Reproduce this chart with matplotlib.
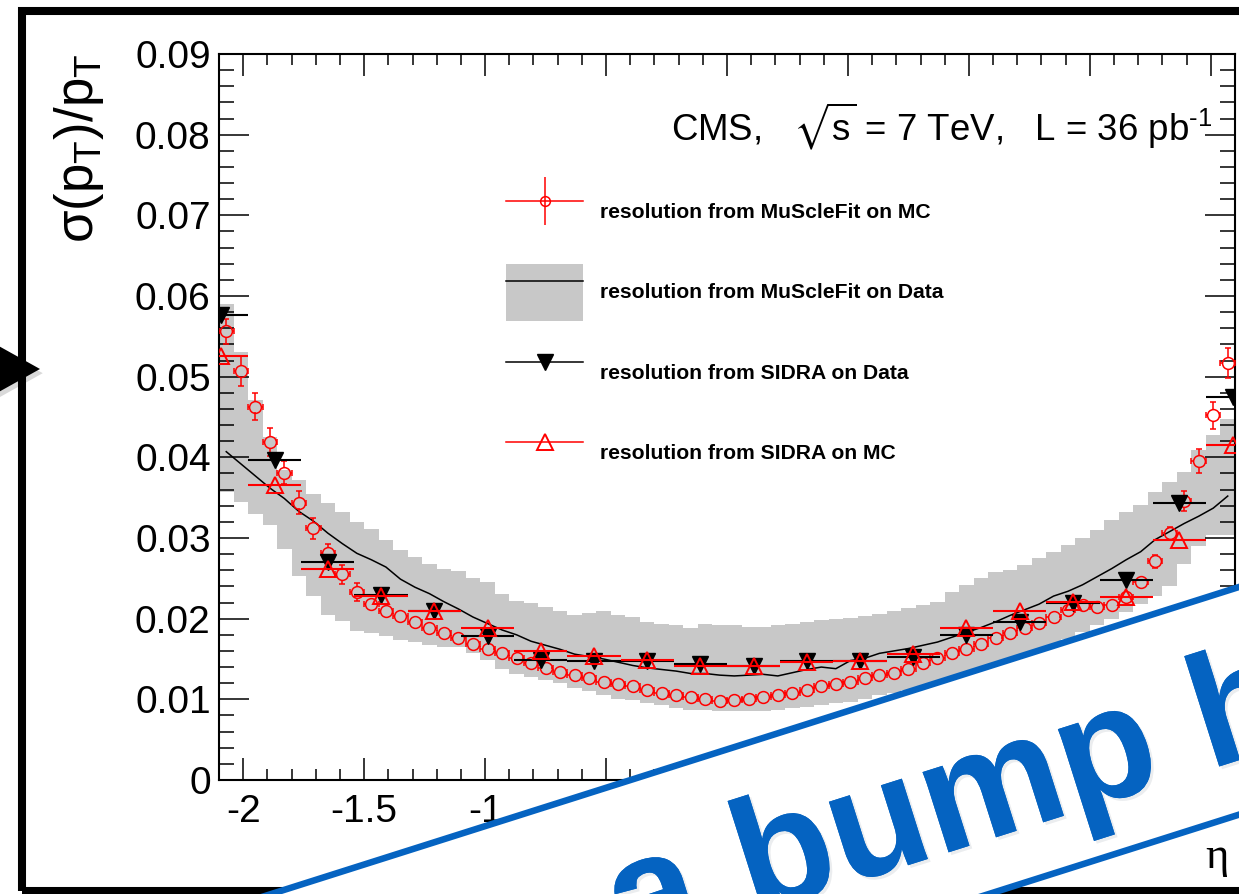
import numpy as np
import matplotlib
matplotlib.use("Agg")
import matplotlib.pyplot as plt
from matplotlib.lines import Line2D
from matplotlib.patches import Patch, Polygon, Rectangle
from matplotlib.legend_handler import HandlerTuple
from matplotlib.ticker import MultipleLocator, FixedLocator, FixedFormatter
import matplotlib.patheffects as pe

plt.rcParams['font.family'] = ['Liberation Sans', 'DejaVu Sans']
plt.rcParams['axes.unicode_minus'] = False
plt.rcParams['mathtext.fontset'] = 'custom'
plt.rcParams['mathtext.rm'] = 'Liberation Sans'
plt.rcParams['mathtext.it'] = 'Liberation Sans:italic'
plt.rcParams['mathtext.bf'] = 'Liberation Sans:bold'
plt.rcParams['mathtext.fallback'] = 'stixsans'

# --- data -------------------------------------------------------------
# fine binning (0.06 in eta), MuScleFit
eta_edges = np.linspace(-2.1, 2.1, 71)
eta_fine = 0.5 * (eta_edges[:-1] + eta_edges[1:])

mscf_mc = [0.0556, 0.0507, 0.0463, 0.0419, 0.0381, 0.0344, 0.0312, 0.0281, 0.0255, 0.0233,
           0.0218, 0.0210, 0.0203, 0.0196, 0.0188, 0.0182, 0.0176, 0.0169, 0.0162, 0.0157,
           0.0151, 0.0145, 0.0139, 0.0134, 0.0130, 0.0127, 0.0122, 0.0119, 0.0116, 0.0111,
           0.0108, 0.0105, 0.0103, 0.0101, 0.0098, 0.0099, 0.0101, 0.0103, 0.0105, 0.0108,
           0.0112, 0.0116, 0.0119, 0.0122, 0.0126, 0.0130, 0.0133, 0.0138, 0.0145, 0.0151,
           0.0157, 0.0163, 0.0169, 0.0176, 0.0182, 0.0189, 0.0195, 0.0202, 0.0211, 0.0217,
           0.0214, 0.0217, 0.0227, 0.0245, 0.0271, 0.0306, 0.0346, 0.0395, 0.0452, 0.0517]
mscf_mc_err = [0.0015, 0.0019, 0.0017, 0.0017, 0.0014, 0.0014, 0.0013, 0.0012, 0.0012, 0.0011,
               0.0005, 0.0005, 0.0004, 0.0004, 0.0004, 0.0004, 0.0004, 0.0004, 0.0004, 0.0004,
               0.0004, 0.0004, 0.0004, 0.0004, 0.0004, 0.0004, 0.0004, 0.0004, 0.0004, 0.0004,
               0.0004, 0.0004, 0.0004, 0.0004, 0.0004, 0.0004, 0.0004, 0.0004, 0.0004, 0.0004,
               0.0004, 0.0004, 0.0004, 0.0004, 0.0004, 0.0004, 0.0004, 0.0004, 0.0004, 0.0004,
               0.0004, 0.0004, 0.0004, 0.0004, 0.0004, 0.0004, 0.0004, 0.0004, 0.0004, 0.0004,
               0.0004, 0.0004, 0.0005, 0.0006, 0.0008, 0.0008, 0.0012, 0.0015, 0.0017, 0.0019]

mscf_data = [0.0407, 0.0392, 0.0377, 0.0362, 0.0349, 0.0333, 0.0321, 0.0306, 0.0293, 0.0281,
             0.0273, 0.0264, 0.0249, 0.0239, 0.0231, 0.0221, 0.0212, 0.0202, 0.0194, 0.0186,
             0.0180, 0.0172, 0.0167, 0.0162, 0.0156, 0.0153, 0.0150, 0.0146, 0.0142, 0.0139,
             0.0137, 0.0135, 0.0132, 0.0132, 0.0130, 0.0129, 0.0130, 0.0131, 0.0129, 0.0133,
             0.0137, 0.0140, 0.0138, 0.0148, 0.0151, 0.0157, 0.0160, 0.0163, 0.0167, 0.0171,
             0.0177, 0.0183, 0.0189, 0.0196, 0.0204, 0.0211, 0.0218, 0.0228, 0.0234, 0.0242,
             0.0252, 0.0262, 0.0273, 0.0283, 0.0298, 0.0308, 0.0318, 0.0327, 0.0337, 0.0352]
band_hi = [0.0590, 0.0530, 0.0471, 0.0425, 0.0384, 0.0372, 0.0355, 0.0343, 0.0332, 0.0320,
           0.0311, 0.0297, 0.0285, 0.0277, 0.0268, 0.0262, 0.0259, 0.0251, 0.0246, 0.0231,
           0.0222, 0.0219, 0.0215, 0.0209, 0.0204, 0.0207, 0.0209, 0.0204, 0.0202, 0.0196,
           0.0194, 0.0192, 0.0188, 0.0194, 0.0192, 0.0192, 0.0190, 0.0190, 0.0192, 0.0194,
           0.0196, 0.0198, 0.0200, 0.0201, 0.0203, 0.0206, 0.0209, 0.0213, 0.0217, 0.0221,
           0.0233, 0.0242, 0.0250, 0.0258, 0.0260, 0.0266, 0.0275, 0.0283, 0.0291, 0.0300,
           0.0310, 0.0322, 0.0332, 0.0341, 0.0357, 0.0369, 0.0382, 0.0409, 0.0428, 0.0448]
band_lo = [0.0357, 0.0345, 0.0330, 0.0316, 0.0286, 0.0253, 0.0228, 0.0204, 0.0197, 0.0185,
           0.0182, 0.0178, 0.0173, 0.0171, 0.0167, 0.0165, 0.0165, 0.0157, 0.0149, 0.0138,
           0.0132, 0.0128, 0.0124, 0.0120, 0.0114, 0.0110, 0.0105, 0.0101, 0.0099, 0.0095,
           0.0093, 0.0089, 0.0087, 0.0087, 0.0085, 0.0085, 0.0085, 0.0085, 0.0087, 0.0089,
           0.0091, 0.0093, 0.0095, 0.0097, 0.0101, 0.0105, 0.0108, 0.0112, 0.0116, 0.0120,
           0.0125, 0.0130, 0.0135, 0.0141, 0.0147, 0.0153, 0.0160, 0.0167, 0.0175, 0.0183,
           0.0192, 0.0200, 0.0208, 0.0218, 0.0228, 0.0240, 0.0268, 0.0290, 0.0304, 0.0304]

# coarse binning (0.22 in eta), SIDRA
eta_coarse = np.linspace(-2.09, 2.09, 20)
sidra_data = [0.0576, 0.0397, 0.0270, 0.0229, 0.0209, 0.0178, 0.0149, 0.0147, 0.0147, 0.0144,
              0.0141, 0.0147, 0.0147, 0.0153, 0.0180, 0.0196, 0.0219, 0.0248, 0.0343, 0.0475]
sidra_mc = [0.0525, 0.0366, 0.0262, 0.0228, 0.0209, 0.0189, 0.0160, 0.0154, 0.0149, 0.0141,
            0.0141, 0.0146, 0.0148, 0.0156, 0.0189, 0.0210, 0.0221, 0.0227, 0.0297, 0.0415]

xtick_vals = [-2, -1.5, -1, -0.5, 0, 0.5, 1, 1.5, 2]
xtick_labels = ['-2', '-1.5', '-1', '-0.5', '0', '0.5', '1', '1.5', '2']
ytick_vals = [0, 0.01, 0.02, 0.03, 0.04, 0.05, 0.06, 0.07, 0.08, 0.09]
ytick_labels = ['0', '0.01', '0.02', '0.03', '0.04', '0.05', '0.06', '0.07', '0.08', '0.09']
legend_labels = ['resolution from MuScleFit on MC', 'resolution from MuScleFit on Data',
                 'resolution from SIDRA on Data', 'resolution from SIDRA on MC']

W, H = 1239, 894
GRAY = '#c8c8c8'
BLUE = '#0563c1'


def fxy(x, y):
    # image pixel -> figure fraction
    return x / W, 1 - y / H


fig = plt.figure(figsize=(W / 100, H / 100), dpi=100)
ax = fig.add_axes([219 / W, 1 - 780 / H, (1235 - 219) / W, (780 - 54) / H])
ax.set_xlim(-2.1, 2.1)
ax.set_ylim(0, 0.09)

# band + line (MuScleFit on data)
ax.stairs(band_hi, eta_edges, baseline=band_lo, fill=True, color=GRAY, lw=0, zorder=1)
ax.plot(eta_fine, mscf_data, color='black', lw=1.1, zorder=2)

# MuScleFit on MC: open circles, error bars drawn outside the marker (ROOT style)
mc = np.array(mscf_mc)
mc_err = np.array(mscf_mc_err)
ms_c = 8.5
r_px = ms_c / 72 * 100 / 2
r_x = r_px * 4.2 / 1016
r_y = r_px * 0.09 / 726
ax.plot(eta_fine, mc, 'o', mfc='none', mec='red', ms=ms_c, mew=1.1, zorder=3)
ax.hlines(mc, eta_fine - 0.03, eta_fine - r_x, color='red', lw=1.1, zorder=3)
ax.hlines(mc, eta_fine + r_x, eta_fine + 0.03, color='red', lw=1.1, zorder=3)
ax.plot(np.r_[eta_fine - 0.03, eta_fine + 0.03], np.r_[mc, mc], '|', color='red',
        ms=4.5, mew=1.1, zorder=3)
big = mc_err > r_y
ax.vlines(eta_fine[big], mc[big] + r_y, mc[big] + mc_err[big], color='red', lw=1.1, zorder=3)
ax.vlines(eta_fine[big], mc[big] - mc_err[big], mc[big] - r_y, color='red', lw=1.1, zorder=3)
ax.plot(np.r_[eta_fine[big], eta_fine[big]],
        np.r_[mc[big] + mc_err[big], mc[big] - mc_err[big]], '_', color='red',
        ms=4.5, mew=1.1, zorder=3)

# SIDRA
ax.errorbar(eta_coarse, sidra_data, xerr=0.11, fmt='v', color='black', ms=11,
            elinewidth=1.5, capsize=0, zorder=4)
ax.errorbar(eta_coarse, sidra_mc, xerr=0.11, fmt='^', color='red', mfc='none',
            mec='red', ms=11.5, mew=1.4, elinewidth=1.5, capsize=0, zorder=5)

ax.xaxis.set_major_locator(FixedLocator(xtick_vals))
ax.xaxis.set_major_formatter(FixedFormatter(xtick_labels))
ax.xaxis.set_minor_locator(MultipleLocator(0.1))
ax.yaxis.set_major_locator(FixedLocator(ytick_vals))
ax.yaxis.set_major_formatter(FixedFormatter(ytick_labels))
ax.yaxis.set_minor_locator(MultipleLocator(0.002))
ax.tick_params(which='both', direction='in', top=True, right=True, width=1.1,
               labelsize=28)
ax.tick_params(axis='y', which='major', length=21.6, pad=6)
ax.tick_params(axis='y', which='minor', length=10.8)
ax.tick_params(axis='x', which='major', length=15.8, pad=10)
ax.tick_params(axis='x', which='minor', length=7.9)
for s in ax.spines.values():
    s.set_linewidth(1.5)

# legend
h1 = (Line2D([], [], color='red', lw=1.1),
      Line2D([], [], color='red', marker='|', ms=35, mew=1.1, ls='none'),
      Line2D([], [], color='red', marker='o', mfc='none', ms=7, mew=1.1, ls='none'))
h2 = (Patch(facecolor=GRAY, edgecolor='none'), Line2D([], [], color='black', lw=1.1))
h3 = Line2D([], [], color='black', lw=1.1, marker='v', ms=11)
h4 = Line2D([], [], color='red', lw=1.1, marker='^', mfc='none', ms=11.5, mew=1.4)
ax.legend([h1, h2, h3, h4], legend_labels,
          handler_map={tuple: HandlerTuple(ndivide=1, pad=0)},
          loc='upper left', bbox_to_anchor=((506 - 219) / 1016, (780 - 183.5) / 726),
          frameon=False, borderpad=0, borderaxespad=0, numpoints=1,
          prop={'size': 15.2, 'weight': 'bold'}, handlelength=3.65,
          handleheight=3.78, labelspacing=1.11, handletextpad=0.8)

ax.text((1212 - 219) / 1016, (780 - 140) / 726,
        r'CMS,   $\sqrt{\mathregular{s}}$ = 7 TeV,   L = 36 pb$^{\text{-1}}$',
        transform=ax.transAxes, ha='right', va='baseline', fontsize=26.4)

# axis titles
fig.text(*fxy(79, 53), r'σ(p$_{\mathregular{T}}$)/p$_{\mathregular{T}}$', rotation=90,
         ha='center', va='top', fontsize=38)
fig.text(*fxy(1217, 857), 'η', family=['Liberation Serif', 'DejaVu Serif'],
         ha='center', va='center', fontsize=32)

# slide frame and arrow
fig.add_artist(Rectangle(fxy(22, 891), (1400 - 22) / W, (891 - 11) / H,
                         transform=fig.transFigure, fill=False, ec='black', lw=5.8,
                         zorder=5))
arrow = Polygon([fxy(-30, 330), fxy(40, 369), fxy(-30, 408)], closed=True,
                transform=fig.transFigure, fc='black', ec='none', zorder=6)
arrow.set_path_effects([pe.withSimplePatchShadow(offset=(2, -3), alpha=0.15)])
fig.add_artist(arrow)

# stamp
th = np.deg2rad(17.6)
u = np.array([np.cos(th), -np.sin(th)])
n = np.array([np.sin(th), np.cos(th)])
A = np.array([1239.0, 587.0])
wband = 217
corners = [A - 1500 * u, A + 300 * u, A + 300 * u + wband * n, A - 1500 * u + wband * n]
stamp = Polygon([fxy(*c) for c in corners], closed=True, transform=fig.transFigure,
                fc='white', ec=BLUE, lw=4.7, zorder=10)
fig.add_artist(stamp)
t = fig.text(*fxy(625, 955), 'a bump h', rotation=17.6, rotation_mode='anchor',
             ha='left', va='baseline', fontsize=115, fontweight='bold', color=BLUE,
             zorder=11)
t.set_path_effects([pe.withSimplePatchShadow(offset=(2, -2), alpha=0.08), pe.Normal()])

fig.savefig('out.png', dpi=100)
